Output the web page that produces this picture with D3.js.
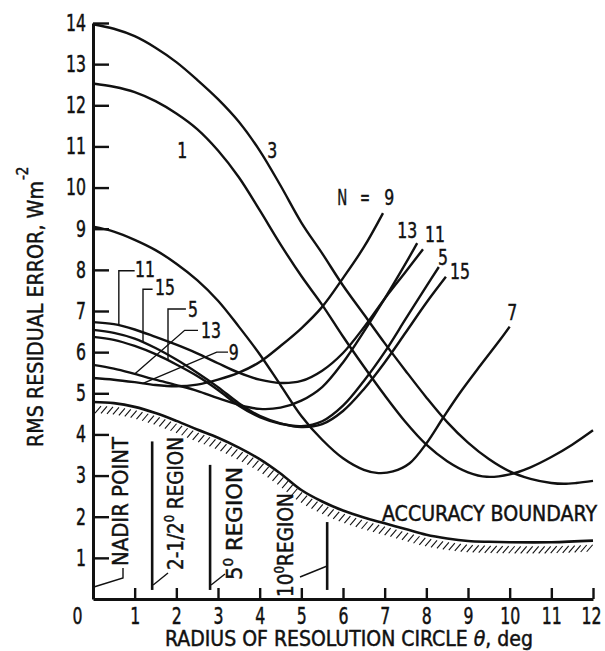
<!DOCTYPE html>
<html>
<head>
<meta charset="utf-8">
<script src="https://cdn.jsdelivr.net/npm/d3@7"></script>
<style>
  body { margin: 0; background: #fff; }
  svg text { font-family: 'Liberation Sans Narrow', 'DejaVu Sans Condensed', sans-serif; fill: #111; stroke: #111; stroke-width: 0.45px; }
</style>
</head>
<body>
<svg id="chart" width="605" height="651"></svg>
<script>
// Tick values
const xTicks = [0, 1, 2, 3, 4, 5, 6, 7, 8, 9, 10, 11, 12];
const yTicks = [1, 2, 3, 4, 5, 6, 7, 8, 9, 10, 11, 12, 13, 14];

// RMS residual error vs radius of resolution circle, one array per N
const curveN1 = [[0,12.53],[0.5,12.45],[1,12.32],[1.5,12.1],[2,11.8],[2.5,11.42],[3,10.9],[3.5,10.25],[4,9.45],[4.5,8.62],[5,7.85],[5.5,7.15],[6,6.38],[6.5,5.65],[7,4.95],[7.5,4.3],[8,3.75],[8.5,3.35],[9,3.08],[9.45,2.97],[10,3.03],[10.5,3.2],[11,3.45],[11.5,3.75],[12,4.1]];
const curveN3 = [[0,13.97],[0.5,13.86],[1,13.68],[1.5,13.4],[2,13.05],[2.5,12.62],[3,12.15],[3.5,11.6],[4,10.9],[4.5,10.05],[5,9.15],[5.5,8.4],[6,7.62],[6.5,6.92],[7,6.22],[7.5,5.55],[8,4.9],[8.5,4.3],[9,3.8],[9.5,3.4],[10,3.1],[10.5,2.92],[11,2.82],[11.3,2.8],[11.6,2.82],[12,2.87]];
const curveN5 = [[0,6.37],[0.5,6.3],[1,6.15],[1.5,5.95],[2,5.7],[2.5,5.42],[3,5.08],[3.5,4.7],[4,4.42],[4.5,4.26],[5,4.2],[5.5,4.32],[6,4.7],[6.5,5.3],[7,6.0],[7.5,6.8],[8,7.6],[8.3,8.07]];
const curveN7 = [[0,9.05],[0.5,8.93],[1,8.73],[1.5,8.48],[2,8.15],[2.5,7.75],[3,7.25],[3.5,6.62],[4,5.95],[4.5,5.2],[5,4.45],[5.5,3.87],[6,3.42],[6.5,3.14],[6.85,3.06],[7.2,3.1],[7.6,3.3],[8,3.78],[8.4,4.4],[8.8,5.0],[9.3,5.68],[9.77,6.3],[10,6.62]];
const curveN9 = [[0,5.37],[0.5,5.33],[1,5.27],[1.5,5.2],[2,5.17],[2.5,5.21],[3,5.33],[3.5,5.5],[4,5.76],[4.5,6.15],[5,6.58],[5.5,7.1],[6,7.8],[6.5,8.55],[6.96,9.38]];
const curveN11 = [[0,6.73],[0.5,6.68],[1,6.55],[1.5,6.37],[2,6.18],[2.5,5.97],[3,5.73],[3.5,5.5],[4,5.33],[4.5,5.25],[5,5.3],[5.5,5.55],[6,5.98],[6.5,6.6],[7,7.3],[7.5,7.95],[7.92,8.5]];
const curveN13 = [[0,5.69],[0.5,5.6],[1,5.47],[1.5,5.33],[2,5.2],[2.5,5.06],[3,4.88],[3.5,4.72],[4,4.62],[4.5,4.65],[5,4.82],[5.5,5.15],[6,5.75],[6.5,6.5],[7,7.3],[7.5,8.15],[7.78,8.65]];
const curveN15 = [[0,6.54],[0.5,6.47],[1,6.33],[1.5,6.1],[2,5.82],[2.5,5.5],[3,5.15],[3.5,4.76],[4,4.45],[4.5,4.27],[5,4.18],[5.5,4.25],[6,4.57],[6.5,5.1],[7,5.75],[7.5,6.47],[8,7.2],[8.47,7.83]];

// Accuracy boundary
const boundary = [[0,4.79],[0.5,4.76],[1,4.67],[1.5,4.52],[2,4.33],[2.5,4.12],[3,3.92],[3.5,3.68],[4,3.4],[4.5,3.05],[5,2.65],[5.5,2.37],[6,2.15],[6.5,1.98],[7,1.84],[7.5,1.7],[8,1.56],[8.5,1.47],[9,1.41],[9.5,1.39],[10,1.38],[11,1.38],[12,1.42]];

// Region bars: theta of bar, top and bottom of the bar
const regionTheta = [1.42, 2.81, 5.62];
const regionTop = [3.83, 3.26, 1.87];
const regionBottom = [0.22, 0.22, 0.22];

const svg = d3.select('#chart');
const x = d3.scaleLinear().domain([0, 12]).range([93, 593]);
const y = d3.scaleLinear().domain([0, 14]).range([599, 23]);

const line = d3.line()
    .x(d => x(d[0]))
    .y(d => y(d[1]))
    .curve(d3.curveCatmullRom.alpha(0.5));

// value of a curve at theta (linear between read points)
function yAt(pts, t) {
    for (let i = 1; i < pts.length; i++) {
        if (t <= pts[i][0]) {
            const a = pts[i - 1], b = pts[i];
            return a[1] + (b[1] - a[1]) * (t - a[0]) / (b[0] - a[0]);
        }
    }
    return pts[pts.length - 1][1];
}

// Axes
const yAxis = d3.axisLeft(y).tickValues(yTicks).tickSize(-16).tickSizeOuter(0).tickPadding(7).tickFormat(d3.format('d'));
const gy = svg.append('g').attr('transform', `translate(${x(0)},0)`).call(yAxis);

const xAxis = d3.axisBottom(x).tickValues(xTicks).tickSize(-11).tickSizeOuter(0).tickPadding(9).tickFormat(d3.format('d'));
const gx = svg.append('g').attr('transform', `translate(0,${y(0)})`).call(xAxis);

[gx, gy].forEach(g => {
    g.attr('font-family', null).attr('font-size', null);
    g.select('.domain').attr('stroke', '#111').attr('stroke-width', 3);
    g.selectAll('.tick line').attr('stroke', '#111').attr('stroke-width', 2.4);
    g.selectAll('.tick text')
        .attr('fill', '#111')
        .attr('textLength', d => String(d).length * 10)
        .attr('lengthAdjust', 'spacingAndGlyphs')
        .style('font-size', '23px');
});
gx.selectAll('.tick').filter(d => d === 0).select('text').attr('x', -16);
gx.selectAll('.tick').filter(d => d === 0).select('line').remove();
gx.selectAll('.tick').filter(d => d === 12).select('text').attr('x', -2);

// Curves
const curves = [curveN1, curveN3, curveN5, curveN7, curveN9, curveN11, curveN13, curveN15];
svg.append('g')
    .selectAll('path')
    .data(curves)
    .enter()
    .append('path')
    .attr('d', line)
    .attr('fill', 'none')
    .attr('stroke', '#111')
    .attr('stroke-width', 2.4);

// Accuracy boundary with hatching
const bPath = svg.append('path')
    .attr('d', line(boundary))
    .attr('fill', 'none')
    .attr('stroke', '#111')
    .attr('stroke-width', 2.6);
const bNode = bPath.node();
const hatch = d3.range(5, bNode.getTotalLength() - 2, 6).map(s => bNode.getPointAtLength(s));
svg.append('g')
    .selectAll('line')
    .data(hatch)
    .enter()
    .append('line')
    .attr('x1', p => p.x + 3)
    .attr('y1', p => p.y + 4)
    .attr('x2', p => p.x - 3)
    .attr('y2', p => p.y + 11)
    .attr('stroke', '#111')
    .attr('stroke-width', 1.1);

// Region bars
svg.append('g')
    .selectAll('line')
    .data(regionTheta)
    .enter()
    .append('line')
    .attr('x1', d => x(d))
    .attr('x2', d => x(d))
    .attr('y1', (d, i) => y(regionTop[i]))
    .attr('y2', (d, i) => y(regionBottom[i]))
    .attr('stroke', '#111')
    .attr('stroke-width', 2.6);

function leader(points) {
    svg.append('path')
        .attr('d', d3.line()(points))
        .attr('fill', 'none')
        .attr('stroke', '#111')
        .attr('stroke-width', 1.4);
}

function label(txt, cx, baseline) {
    svg.append('text')
        .attr('x', cx)
        .attr('y', baseline)
        .attr('text-anchor', 'middle')
        .attr('textLength', txt.length * 10)
        .attr('lengthAdjust', 'spacingAndGlyphs')
        .style('font-size', '22px')
        .text(txt);
}

// Curve labels on the right
label('1', x(2.14), y(10.72));
label('3', x(4.30), y(10.72));
label('N', x(5.98), y(9.58));
label('=', x(6.53), y(9.58));
label('9', x(7.11), y(9.58));
label('13', x(7.54), y(8.77));
label('11', x(8.21), y(8.67));
label('5', x(8.4), y(8.12));
label('15', x(8.81), y(7.78));
label('7', x(10.06), y(6.78));

// Curve labels on the left with leaders
label('11', x(1.25), y(7.83));
leader([[x(0.62), y(yAt(curveN11, 0.62))], [x(0.62), y(7.98)], [x(1.0), y(7.98)]]);
label('15', x(1.73), y(7.39));
leader([[x(1.2), y(yAt(curveN15, 1.2))], [x(1.2), y(7.53)], [x(1.43), y(7.53)]]);
label('5', x(2.4), y(6.85));
leader([[x(1.8), y(yAt(curveN5, 1.8))], [x(1.8), y(7.05)], [x(2.23), y(7.05)]]);
label('13', x(2.83), y(6.34));
leader([[x(1.0), y(yAt(curveN13, 1.0))], [x(2.2), y(6.53)], [x(2.52), y(6.53)]]);
label('9', x(3.38), y(5.81));
leader([[x(1.2), y(yAt(curveN9, 1.2))], [x(2.97), y(6.0)], [x(3.24), y(6.0)]]);

// Vertical region texts, reading bottom to top
function vText(parts, cx, bottom, len) {
    const t = svg.append('text')
        .attr('transform', `translate(${cx + 8},${bottom}) rotate(-90)`)
        .attr('textLength', len)
        .attr('lengthAdjust', 'spacingAndGlyphs')
        .style('font-size', '22px');
    parts.forEach(p => {
        const s = t.append('tspan').text(p.t);
        if (p.sup) s.attr('dy', -9).style('font-size', '14px');
        if (p.down) s.attr('dy', 9);
    });
}
vText([{ t: 'NADIR POINT' }], 120, 566, 129);
leader([[123, 568], [123, 578], [x(0.02), 587]]);
vText([{ t: '2-1/2' }, { t: '0', sup: true }, { t: ' REGION', down: true }], 175, 570, 133);
leader([[x(regionTheta[0]) + 1, 585], [168, 573]]);
vText([{ t: '5' }, { t: '0', sup: true }, { t: ' REGION', down: true }], 234, 580, 113);
leader([[x(regionTheta[1]) + 1, 585], [225, 574]]);
vText([{ t: '10' }, { t: '0', sup: true }, { t: 'REGION', down: true }], 285, 597, 104);
leader([[x(regionTheta[2]), 566], [300, 577]]);

svg.append('text')
    .attr('x', 382)
    .attr('y', 521)
    .attr('textLength', 215)
    .attr('lengthAdjust', 'spacingAndGlyphs')
    .style('font-size', '21px')
    .text('ACCURACY BOUNDARY');

// Axis titles
const xt = svg.append('text')
    .attr('x', 165)
    .attr('y', 646)
    .attr('textLength', 368)
    .attr('lengthAdjust', 'spacingAndGlyphs')
    .style('font-size', '21px');
xt.append('tspan').text('RADIUS OF RESOLUTION CIRCLE ');
xt.append('tspan').style('font-style', 'italic').text('θ');
xt.append('tspan').text(', deg');

svg.append('text')
    .attr('transform', 'translate(43,447) rotate(-90)')
    .attr('textLength', 266)
    .attr('lengthAdjust', 'spacingAndGlyphs')
    .style('font-size', '22px')
    .text('RMS RESIDUAL ERROR, Wm');
svg.append('text')
    .attr('transform', 'translate(28,180) rotate(-90)')
    .style('font-size', '15px')
    .text('-2');
</script>
</body>
</html>
